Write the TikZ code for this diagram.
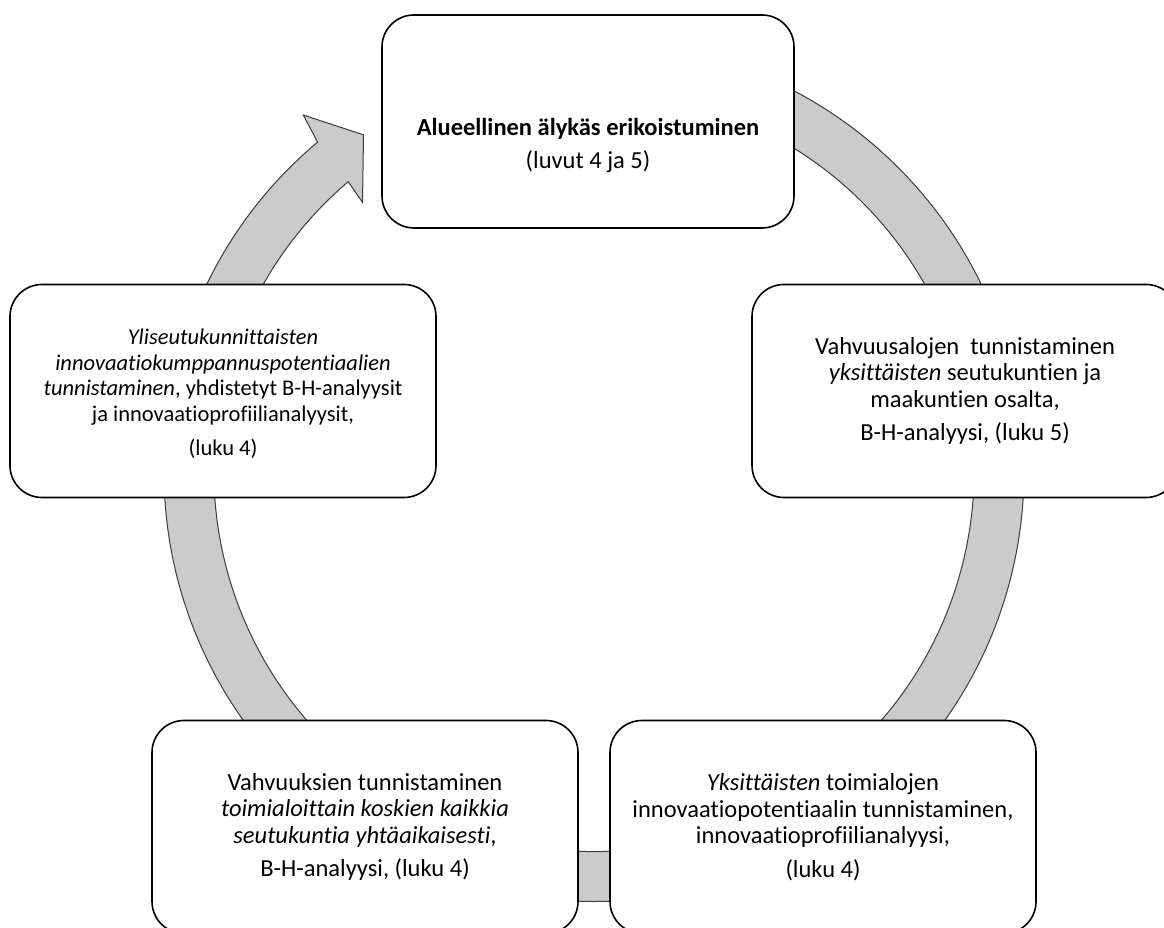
\documentclass[tikz,border=0pt]{standalone}
\usepackage{fontspec}
\setmainfont{Carlito}[Ligatures=NoCommon]
\begin{document}
\begin{tikzpicture}[x=1pt,y=1pt,
  ring/.style={fill=ringgray,draw=ringline,line width=1pt,line join=miter},
  box/.style={draw=black,fill=white,line width=1.6pt,rounded corners=32pt,
    minimum width=426pt,minimum height=213pt,inner sep=0pt},
  txt/.style={align=flush center,text width=420pt,font=\fontsize{24.5}{26.5}\selectfont,inner sep=0pt},
  smalltxt/.style={txt,font=\fontsize{22.5}{25.5}\selectfont}]
\definecolor{ringgray}{RGB}{203,203,203}
\definecolor{ringline}{RGB}{60,60,60}
\useasboundingbox (0,0) rectangle (1164,928);
\clip (0,0) rectangle (1164,928);
\coordinate (rc) at (594,456.5);
% continuous cycle arrow
\draw[ring] ([shift={(130:430pt)}]rc) arc[start angle=130,end angle=435,radius=430pt]
  -- ([shift={(435:380pt)}]rc) arc[start angle=435,end angle=130.3,radius=380pt]
  -- ([shift={(130.7:355pt)}]rc) -- ([shift={(124.4:408pt)}]rc)
  -- ([shift={(129.2:460pt)}]rc) -- cycle;
% boxes
\node[box,minimum width=412pt] (top) at (588,806.5) {};
\node[txt] (toptext) at ([yshift=-24pt]top.center) {\textbf{Alueellinen älykäs erikoistuminen}\\[7pt](luvut 4 ja 5)};
\node[box] (right) at (965,537) {};
\node[txt] (righttext) at (right.center) {Vahvuusalojen\ \ tunnistaminen\\\textit{yksittäisten} seutukuntien ja\\maakuntien osalta,\\[7pt]B-H-analyysi, (luku 5)};
\node[box] (bright) at (823,101) {};
\node[txt] (brighttext) at (bright.center) {\textit{Yksittäisten} toimialojen\\innovaatiopotentiaalin tunnistaminen,\\innovaatioprofiilianalyysi,\\[7pt](luku 4)};
\node[box] (bleft) at (365,101) {};
\node[txt] (blefttext) at (bleft.center) {Vahvuuksien tunnistaminen\\\textit{toimialoittain koskien kaikkia}\\\textit{seutukuntia yhtäaikaisesti},\\[7pt]B-H-analyysi, (luku 4)};
\node[box] (left) at (223,537) {};
\node[smalltxt] (lefttext) at ([yshift=-3pt]left.center) {\textit{Yliseutukunnittaisten}\\\textit{innovaatiokumppannuspotentiaalien}\\\textit{tunnistaminen}, yhdistetyt B-H-analyysit\\ja innovaatioprofiilianalyysit,\\[9pt](luku 4)};
\end{tikzpicture}
\end{document}
